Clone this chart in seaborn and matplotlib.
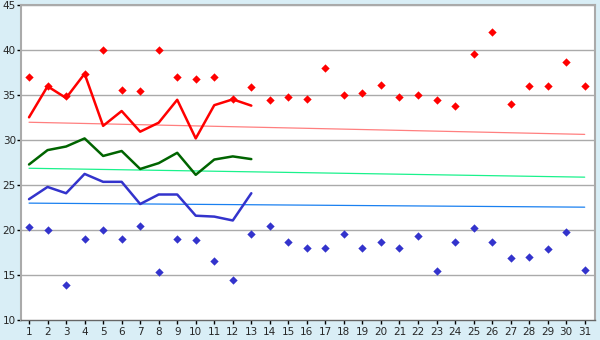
import matplotlib
matplotlib.use("Agg")
import matplotlib.pyplot as plt
import seaborn as sns
import pandas as pd

days = list(range(1, 32))
line_days = list(range(1, 14))

max_points = [37.0, 36.0, 34.9, 37.4, 40.0, 35.55, 35.45, 40.0, 37.0, 36.8,
              37.0, 34.55, 35.9, 34.45, 34.8, 34.55, 38.0, 35.0, 35.2, 36.2,
              34.8, 35.0, 34.45, 33.8, 39.55, 42.0, 34.0, 36.0, 36.0, 38.67, 36.0]
min_points = [20.33, 20.0, 13.9, 19.0, 20.0, 19.0, 20.44, 15.3, 19.0, 18.9,
              16.55, 14.44, 19.55, 20.44, 18.67, 18.0, 18.0, 19.55, 18.0, 18.67,
              18.0, 19.33, 15.4, 18.67, 20.2, 18.67, 16.9, 17.0, 17.9, 19.8, 15.55]

max_line = [32.55, 36.0, 34.7, 37.4, 31.6, 33.25, 30.95, 31.95, 34.5, 30.2,
            33.9, 34.55, 33.85]
mean_line = [27.3, 28.9, 29.3, 30.2, 28.25, 28.8, 26.8, 27.45, 28.6, 26.15,
             27.85, 28.2, 27.9]
min_line = [23.44, 24.8, 24.1, 26.25, 25.37, 25.37, 22.9, 23.96, 23.96, 21.6,
            21.5, 21.07, 24.1]

trend_days = [1, 31]
max_trend = [32.0, 30.65]
mean_trend = [26.88, 25.89]
min_trend = [23.0, 22.55]

bg = "#D9EEF6"
grid_col = "#AAAAAA"

sns.set_style("white")
plt.rcParams["font.family"] = ["DejaVu Sans"]

fig = plt.figure(figsize=(6, 3.4), dpi=100, facecolor=bg)
ax = fig.add_axes([0.0345, 0.059, 0.957, 0.925])
ax.set_facecolor("white")

for y in range(15, 50, 5):
    ax.axhline(y, color=grid_col, linewidth=1.0, zorder=0)

trend_df = pd.DataFrame({"day": trend_days, "max": max_trend,
                         "mean": mean_trend, "min": min_trend})
for col, c in [("max", "#FF7F7F"), ("mean", "#1AF28C"), ("min", "#1A80F0")]:
    sns.lineplot(data=trend_df, x="day", y=col, color=c, linewidth=0.9, ax=ax,
                 zorder=2)

line_df = pd.DataFrame({"day": line_days, "max": max_line,
                        "mean": mean_line, "min": min_line})
for col, c in [("max", "#FF0000"), ("mean", "#006400"), ("min", "#3333CC")]:
    sns.lineplot(data=line_df, x="day", y=col, color=c, linewidth=1.8, ax=ax,
                 zorder=3)

pts_df = pd.DataFrame({"day": days, "max": max_points, "min": min_points})
sns.scatterplot(data=pts_df, x="day", y="max", color="#FF0000", marker="D",
                s=18, linewidth=0, ax=ax, zorder=4)
sns.scatterplot(data=pts_df, x="day", y="min", color="#3333CC", marker="D",
                s=18, linewidth=0, ax=ax, zorder=4)

ax.set_xlim(0.55, 31.55)
ax.set_ylim(10, 45)
ax.set_xticks(days)
ax.set_yticks(range(10, 50, 5))
ax.set_xlabel("")
ax.set_ylabel("")
ax.tick_params(axis="both", labelsize=7.5, length=3, width=1, color="black",
               direction="out", bottom=True, left=True)
ax.tick_params(axis="y", pad=0.5)
ax.tick_params(axis="x", pad=2)

for side in ["top", "right", "left"]:
    ax.spines[side].set_color(grid_col)
    ax.spines[side].set_linewidth(1.5)
ax.spines["bottom"].set_color("#666666")
ax.spines["bottom"].set_linewidth(1.0)

fig.savefig("out.png", dpi=100, facecolor=bg)
